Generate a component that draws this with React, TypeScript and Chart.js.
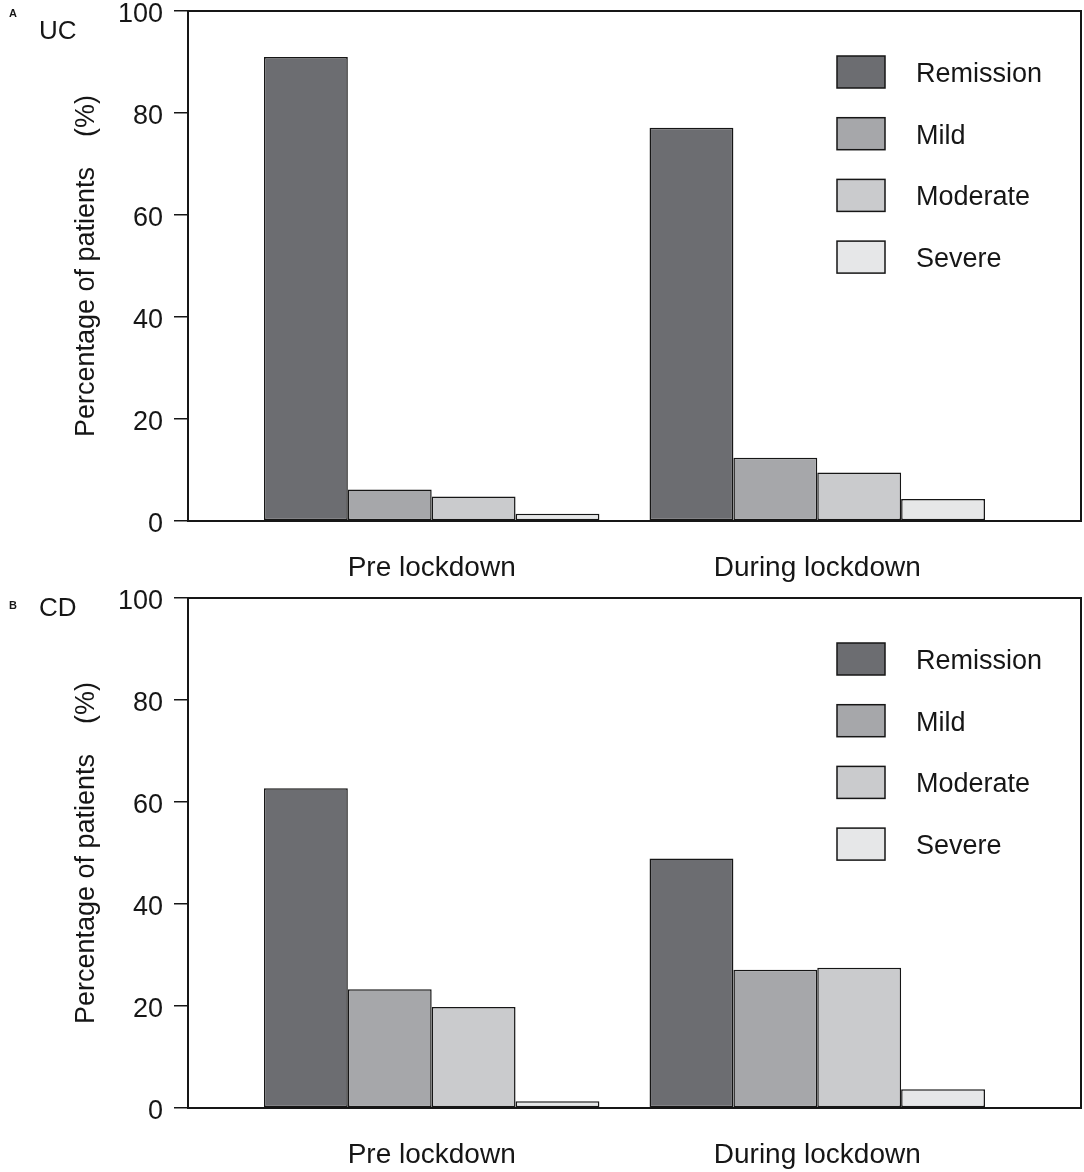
import { useEffect, useRef } from "react";
import { Chart, registerables } from "chart.js";

Chart.register(...registerables);

const categories = ["Pre lockdown", "During lockdown"];
const severities = ["Remission", "Mild", "Moderate", "Severe"];
const severityColors = ["#6c6d71", "#a6a7aa", "#cacbcd", "#e6e7e8"];

// UC panel, % of patients per severity (pre, during)
const ucRemission = [91.0, 77.1];
const ucMild = [6.2, 12.4];
const ucModerate = [4.8, 9.5];
const ucSevere = [1.4, 4.3];

// CD panel
const cdRemission = [62.7, 48.9];
const cdMild = [23.3, 27.1];
const cdModerate = [19.8, 27.5];
const cdSevere = [1.3, 3.7];

const yTicks = [0, 20, 40, 60, 80, 100];

const FONT = "'Liberation Sans', Arial, Helvetica, sans-serif";
const INK = "#161616";

const framePlugin = {
  id: "frame",
  afterDatasetsDraw(chart: Chart) {
    const { ctx, chartArea } = chart;
    ctx.save();
    ctx.strokeStyle = INK;
    ctx.lineWidth = 2;
    ctx.strokeRect(chartArea.left, chartArea.top, chartArea.right - chartArea.left, chartArea.bottom - chartArea.top);
    ctx.restore();
  },
};

// legend boxes drawn inside the plot, top-right
const boxLegendPlugin = {
  id: "boxLegend",
  afterDraw(chart: Chart) {
    const { ctx, chartArea } = chart;
    ctx.save();
    chart.data.datasets.forEach((ds, i) => {
      const y = chartArea.top + 45 + i * 61.7;
      const x = chartArea.right - 244;
      ctx.fillStyle = ds.backgroundColor as string;
      ctx.fillRect(x, y, 48, 32);
      ctx.strokeStyle = INK;
      ctx.lineWidth = 1.5;
      ctx.strokeRect(x, y, 48, 32);
      ctx.fillStyle = INK;
      ctx.font = `27px ${FONT}`;
      ctx.textBaseline = "middle";
      ctx.textAlign = "left";
      ctx.fillText(ds.label as string, chartArea.right - 165, y + 18.5);
    });
    ctx.restore();
  },
};

function Panel({
  series,
  padTop,
  axisHeight,
}: {
  series: number[][];
  padTop: number;
  axisHeight: number;
}) {
  const canvasRef = useRef<HTMLCanvasElement>(null);

  useEffect(() => {
    const canvas = canvasRef.current;
    if (!canvas) return;

    const chart = new Chart(canvas, {
      type: "bar",
      data: {
        datasets: series.map((vals, i) => ({
          label: severities[i],
          data: vals.map((v, j) => ({ x: j, y: v })),
          backgroundColor: severityColors[i],
          borderColor: INK,
          borderWidth: 1.5,
          borderSkipped: false,
          categoryPercentage: 0.87,
          barPercentage: 1.0,
        })),
      },
      options: {
        animation: false,
        responsive: false,
        maintainAspectRatio: false,
        layout: { padding: { top: padTop, right: 3, left: 0, bottom: 0 } },
        plugins: {
          legend: { display: false },
          tooltip: { enabled: false },
        },
        scales: {
          x: {
            type: "linear",
            min: -0.632,
            max: 1.684,
            offset: false,
            bounds: "data",
            afterBuildTicks: (scale: any) => {
              scale.ticks = categories.map((_, i) => ({ value: i }));
            },
            afterFit: (scale: any) => {
              scale.height = axisHeight;
              scale.paddingLeft = 0;
              scale.paddingRight = 0;
            },
            ticks: {
              autoSkip: false,
              maxRotation: 0,
              padding: 30,
              color: INK,
              font: { family: FONT, size: 28 },
              callback: (v: any) => categories[v as number] ?? "",
            },
            grid: { display: false, drawTicks: false, offset: false },
            border: { display: false },
          },
          y: {
            min: 0,
            max: 100,
            afterBuildTicks: (scale: any) => {
              scale.ticks = yTicks.map((v) => ({ value: v }));
            },
            afterFit: (scale: any) => {
              scale.width = 188;
              scale.paddingTop = 0;
              scale.paddingBottom = 0;
            },
            ticks: {
              padding: 11,
              labelOffset: 4,
              color: INK,
              font: { family: FONT, size: 27, lineHeight: 1 },
            },
            grid: {
              drawOnChartArea: false,
              drawTicks: true,
              tickLength: 14,
              color: INK,
              lineWidth: 1.5,
            },
            border: { display: false },
            title: {
              display: true,
              text: "Percentage of patients    (%)",
              color: INK,
              font: { family: FONT, size: 27 },
              padding: { top: 70, bottom: 0 },
            },
          },
        },
      },
      plugins: [framePlugin, boxLegendPlugin],
    });

    return () => {
      chart.destroy();
    };
  }, [series, padTop, axisHeight]);

  return <canvas ref={canvasRef} width={1084} height={586} style={{ display: "block" }} />;
}

const label = (text: string, left: number, top: number, size: number, bold = false) => (
  <div
    style={{
      position: "absolute",
      left,
      top,
      fontFamily: FONT,
      fontSize: size,
      lineHeight: `${size}px`,
      fontWeight: bold ? 700 : 400,
      color: INK,
    }}
  >
    {text}
  </div>
);

export default function App() {
  return (
    <div style={{ position: "absolute", left: 0, top: 0, width: 1084, height: 1172, background: "#fff" }}>
      <div style={{ position: "absolute", left: 0, top: 0 }}>
        <Panel series={[ucRemission, ucMild, ucModerate, ucSevere]} padTop={11} axisHeight={65} />
      </div>
      <div style={{ position: "absolute", left: 0, top: 586 }}>
        <Panel series={[cdRemission, cdMild, cdModerate, cdSevere]} padTop={12} axisHeight={64} />
      </div>
      {label("A", 9, 8, 11, true)}
      {label("UC", 39, 17, 26)}
      {label("B", 9, 600, 11, true)}
      {label("CD", 39, 594, 26)}
    </div>
  );
}
